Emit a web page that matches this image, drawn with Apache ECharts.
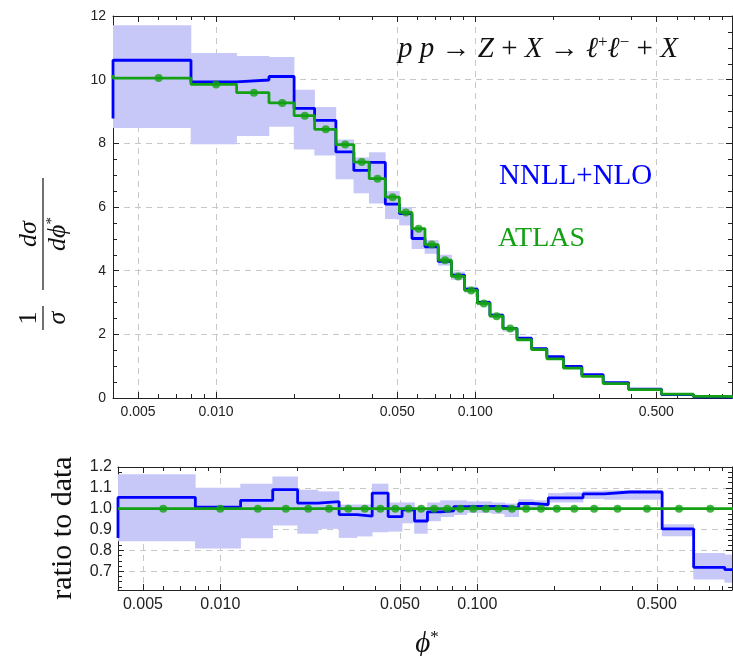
<!DOCTYPE html>
<html><head><meta charset="utf-8">
<script src="https://cdn.jsdelivr.net/npm/echarts@6/dist/echarts.min.js"></script>
<style>html,body{margin:0;padding:0;background:#fff}#c{width:733px;height:656px}</style>
</head><body><div id="c"></div>
<script>
// ---- data (bins in phi*) ----
const binEdges = [0, 0.004, 0.008, 0.012, 0.016, 0.020, 0.024, 0.029, 0.034, 0.039, 0.045, 0.051, 0.057, 0.064, 0.072, 0.081, 0.091, 0.102, 0.114, 0.128, 0.145, 0.165, 0.189, 0.219, 0.258, 0.312, 0.391, 0.524, 0.695, 0.918, 1.153];
// ATLAS data, 1/sigma dsigma/dphi*
const atlas = [10.15, 10.05, 9.85, 9.59, 9.27, 8.87, 8.44, 7.96, 7.41, 6.89, 6.31, 5.83, 5.32, 4.82, 4.33, 3.82, 3.38, 2.97, 2.57, 2.18, 1.83, 1.52, 1.23, 0.94, 0.68, 0.45, 0.26, 0.12, 0.05, 0.03];
// NNLL+NLO prediction and its band
const nnll   = [8.78, 10.61, 9.93, 9.99, 10.10, 9.10, 8.72, 7.73, 7.15, 7.40, 6.09, 5.79, 5.01, 4.75, 4.29, 3.86, 3.42, 3.00, 2.60, 2.19, 1.88, 1.55, 1.30, 0.99, 0.73, 0.486, 0.281, 0.108, 0.036, 0.021];
const nnllLo = [null, 8.48, 7.97, 8.23, 8.52, 7.81, 7.62, 6.87, 6.43, 6.11, 5.62, 5.42, 4.68, 4.53, 4.16, 3.71, 3.31, 2.91, 2.51, 2.09, 1.83, 1.52, 1.27, 0.97, 0.71, 0.47, 0.27, 0.104, 0.033, 0.019];
const nnllHi = [null, 11.71, 10.84, 10.74, 10.71, 9.68, 9.14, 8.12, 7.56, 7.72, 6.50, 6.00, 5.32, 4.96, 4.50, 3.97, 3.50, 3.07, 2.65, 2.23, 1.91, 1.58, 1.32, 1.01, 0.74, 0.49, 0.283, 0.111, 0.039, 0.023];
// ratio to data panel
const ratioNnll = [0.86, 1.054, 1.008, 1.04, 1.091, 1.027, 1.034, 0.972, 0.964, 1.075, 0.962, 0.995, 0.941, 0.985, 0.99, 1.01, 1.011, 1.011, 1.011, 1.003, 1.025, 1.02, 1.052, 1.052, 1.071, 1.08, 1.08, 0.903, 0.719, 0.708];
const ratioLo = [null, 0.844, 0.809, 0.858, 0.919, 0.88, 0.903, 0.86, 0.867, 0.887, 0.89, 0.93, 0.88, 0.94, 0.96, 0.97, 0.98, 0.98, 0.975, 0.96, 1.0, 1.0, 1.03, 1.03, 1.047, 1.043, 1.043, 0.868, 0.66, 0.645];
const ratioHi = [null, 1.165, 1.101, 1.12, 1.155, 1.091, 1.083, 1.02, 1.02, 1.12, 1.03, 1.03, 1.0, 1.03, 1.04, 1.04, 1.035, 1.035, 1.03, 1.025, 1.045, 1.04, 1.075, 1.078, 1.086, 1.088, 1.088, 0.925, 0.788, 0.78];
const ratioAtlas = [1, 1, 1, 1, 1, 1, 1, 1, 1, 1, 1, 1, 1, 1, 1, 1, 1, 1, 1, 1, 1, 1, 1, 1, 1, 1, 1, 1, 1, 1];
const topMarkerLastBin = 19;
// ---- ticks ----
const xMajorTicks = [0.005, 0.01, 0.05, 0.1, 0.5];
const xMajorLabels = ['0.005', '0.010', '0.050', '0.100', '0.500'];
const xMinorTicks = [0.004, 0.006, 0.007, 0.008, 0.009, 0.02, 0.03, 0.04, 0.06, 0.07, 0.08, 0.09, 0.2, 0.3, 0.4, 0.6, 0.7, 0.8, 0.9];
const yBotTicks = [0.7, 0.8, 0.9, 1.0, 1.1, 1.2];
const yBotLabels = ['0.7', '0.8', '0.9', '1.0', '1.1', '1.2'];
const yBotMinor = [0.625, 0.65, 0.675, 0.725, 0.75, 0.775, 0.825, 0.85, 0.875, 0.925, 0.95, 0.975, 1.025, 1.05, 1.075, 1.125, 1.15, 1.175];

const X_MIN = 0.004, X_MAX = 0.98;
const BLUE = '#0000ff', GREEN = '#14a014', BAND = '#c8c8f8', FRAME = '#222', GRID = '#c8c8c8';
const lg = v => Math.log10(v);

function steps(vals) {
  const pts = [];
  for (let i = 0; i < vals.length; i++) {
    if (vals[i] == null) continue;
    pts.push([Math.max(binEdges[i], X_MIN), vals[i]], [binEdges[i + 1], vals[i]]);
  }
  return pts;
}
function bands(lo, hi) {
  const out = [];
  for (let i = 0; i < lo.length; i++) {
    if (lo[i] == null) continue;
    out.push([Math.max(binEdges[i], X_MIN), binEdges[i + 1], lo[i], hi[i]]);
  }
  return out;
}
function markers(vals, lastBin) {
  const out = [];
  for (let i = 1; i <= lastBin && i < vals.length; i++) {
    const mid = (binEdges[i] + binEdges[i + 1]) / 2;
    if (mid > X_MAX) break;
    out.push([mid, vals[i]]);
  }
  return out;
}
function renderBand(params, api) {
  const p0 = api.coord([api.value(0), api.value(3)]);
  const p1 = api.coord([api.value(1), api.value(2)]);
  return { type: 'rect', shape: { x: p0[0] - 0.3, y: p0[1], width: p1[0] - p0[0] + 0.6, height: p1[1] - p0[1] }, style: { fill: BAND } };
}
function labelFont(size) { return { fontSize: size, color: '#222', fontFamily: 'Liberation Sans' }; }
function xAxes(gi, fs) {
  const base = { type: 'value', gridIndex: gi, min: lg(X_MIN), max: lg(X_MAX) };
  const line = { show: true, onZero: false, lineStyle: { color: FRAME, width: 1 } };
  return [
    { type: 'log', logBase: 10, gridIndex: gi, min: X_MIN, max: X_MAX, show: false },
    Object.assign({}, base, {
      position: 'bottom', axisLine: line,
      axisTick: { show: true, inside: true, length: 6, customValues: xMajorTicks.map(lg), lineStyle: { color: FRAME } },
      axisLabel: Object.assign({ show: true, margin: 7, customValues: xMajorTicks.map(lg),
        formatter: v => { const i = xMajorTicks.findIndex(m => Math.abs(lg(m) - v) < 1e-6); return i < 0 ? '' : xMajorLabels[i]; } }, labelFont(fs)),
      splitLine: { show: true, lineStyle: { color: GRID, type: [6, 5], width: 1 } }
    }),
    Object.assign({}, base, {
      position: 'bottom', axisLine: { show: false, onZero: false },
      axisTick: { show: true, inside: true, length: 4, customValues: xMinorTicks.map(lg), lineStyle: { color: FRAME } },
      axisLabel: { show: false }, splitLine: { show: false }
    }),
    Object.assign({}, base, {
      position: 'top', axisLine: line,
      axisTick: { show: true, inside: true, length: 6, customValues: xMajorTicks.map(lg), lineStyle: { color: FRAME } },
      axisLabel: { show: false }, splitLine: { show: false }
    }),
    Object.assign({}, base, {
      position: 'top', axisLine: { show: false, onZero: false },
      axisTick: { show: true, inside: true, length: 4, customValues: xMinorTicks.map(lg), lineStyle: { color: FRAME } },
      axisLabel: { show: false }, splitLine: { show: false }
    })
  ];
}
const line1 = { show: true, onZero: false, lineStyle: { color: FRAME, width: 1 } };
const yAxes = [
  { type: 'value', gridIndex: 0, min: 0, max: 12, interval: 2, position: 'left', axisLine: line1,
    axisTick: { show: true, inside: true, length: 6, lineStyle: { color: FRAME } },
    minorTick: { show: true, splitNumber: 4, length: 4, lineStyle: { color: FRAME } },
    axisLabel: Object.assign({ margin: 7 }, labelFont(14)),
    splitLine: { show: true, lineStyle: { color: GRID, type: [6, 5], width: 1 } } },
  { type: 'value', gridIndex: 0, min: 0, max: 12, interval: 2, position: 'right', axisLine: line1,
    axisTick: { show: true, inside: true, length: 6, lineStyle: { color: FRAME } },
    minorTick: { show: true, splitNumber: 4, length: 4, lineStyle: { color: FRAME } },
    axisLabel: { show: false }, splitLine: { show: false } },
  { type: 'value', gridIndex: 1, min: 0.61, max: 1.2, position: 'left', axisLine: line1,
    axisTick: { show: true, inside: true, length: 6, customValues: yBotTicks, lineStyle: { color: FRAME } },
    axisLabel: Object.assign({ margin: 6, customValues: yBotTicks,
      formatter: v => { const i = yBotTicks.findIndex(m => Math.abs(m - v) < 1e-6); return i < 0 ? '' : yBotLabels[i]; } }, labelFont(16)),
    splitLine: { show: true, lineStyle: { color: GRID, type: [6, 5], width: 1 } } },
  { type: 'value', gridIndex: 1, min: 0.61, max: 1.2, position: 'left', axisLine: { show: false, onZero: false },
    axisTick: { show: true, inside: true, length: 4, customValues: yBotMinor, lineStyle: { color: FRAME } },
    axisLabel: { show: false }, splitLine: { show: false } },
  { type: 'value', gridIndex: 1, min: 0.61, max: 1.2, position: 'right', axisLine: line1,
    axisTick: { show: true, inside: true, length: 6, customValues: yBotTicks, lineStyle: { color: FRAME } },
    axisLabel: { show: false }, splitLine: { show: false } },
  { type: 'value', gridIndex: 1, min: 0.61, max: 1.2, position: 'right', axisLine: { show: false, onZero: false },
    axisTick: { show: true, inside: true, length: 4, customValues: yBotMinor, lineStyle: { color: FRAME } },
    axisLabel: { show: false }, splitLine: { show: false } }
];

const serif = '"Liberation Serif", "DejaVu Serif", serif';
const option = {
  animation: false,
  backgroundColor: '#fff',
  grid: [
    { left: 113, top: 16, width: 619, height: 382 },
    { left: 118, top: 467, width: 614, height: 123 }
  ],
  xAxis: xAxes(0, 14).concat(xAxes(1, 16)),
  yAxis: yAxes,
  series: [
    { type: 'custom', name: 'bandTop', xAxisIndex: 0, yAxisIndex: 0, renderItem: renderBand, clip: true, z: 1,
      encode: { x: [0, 1], y: [2, 3] }, data: bands(nnllLo, nnllHi) },
    { type: 'line', name: 'NNLL+NLO', xAxisIndex: 0, yAxisIndex: 0, data: steps(nnll), showSymbol: false, clip: true,
      lineStyle: { color: BLUE, width: 2.8 }, z: 3 },
    { type: 'line', name: 'ATLAS', xAxisIndex: 0, yAxisIndex: 0, data: steps(atlas), showSymbol: false, clip: true,
      lineStyle: { color: GREEN, width: 2.8 }, z: 4 },
    { type: 'scatter', xAxisIndex: 0, yAxisIndex: 0, data: markers(atlas, topMarkerLastBin), symbolSize: 8,
      itemStyle: { color: GREEN }, z: 5 },
    { type: 'custom', name: 'bandBot', xAxisIndex: 5, yAxisIndex: 2, renderItem: renderBand, clip: true, z: 1,
      encode: { x: [0, 1], y: [2, 3] }, data: bands(ratioLo, ratioHi) },
    { type: 'line', xAxisIndex: 5, yAxisIndex: 2, data: steps(ratioNnll), showSymbol: false, clip: true,
      lineStyle: { color: BLUE, width: 2.8 }, z: 3 },
    { type: 'line', xAxisIndex: 5, yAxisIndex: 2, data: steps(ratioAtlas), showSymbol: false, clip: true,
      lineStyle: { color: GREEN, width: 2.8 }, z: 4 },
    { type: 'scatter', xAxisIndex: 5, yAxisIndex: 2, data: markers(ratioAtlas, ratioAtlas.length - 1), symbolSize: 8,
      itemStyle: { color: GREEN }, z: 5 }
  ],
  graphic: [
    { type: 'text', x: 398, y: 49, z: 10, style: {
        text: '{it|p p}{rm| → }{it|Z}{rm| + }{it|X}{rm| → }{it|ℓ}{sup|+}{it|ℓ}{sup|−}{rm| + }{it|X}',
        textVerticalAlign: 'middle', fill: '#111',
        rich: {
          it: { fontFamily: serif, fontStyle: 'italic', fontSize: 29, fill: '#111' },
          rm: { fontFamily: serif, fontSize: 29, fill: '#111' },
          sup: { fontFamily: serif, fontSize: 17, verticalAlign: 'top', fill: '#111' }
        } } },
    { type: 'text', x: 499, y: 176, z: 10, style: { text: 'NNLL+NLO', font: '29px ' + serif, fill: BLUE, textVerticalAlign: 'middle' } },
    { type: 'text', x: 498, y: 239, z: 10, style: { text: 'ATLAS', font: '28px ' + serif, fill: GREEN, textVerticalAlign: 'middle' } },
    { type: 'text', x: 63, y: 528, rotation: Math.PI / 2, z: 10, style: { text: 'ratio to data', font: '30px ' + serif, fill: '#111', textAlign: 'center', textVerticalAlign: 'middle' } },
    { type: 'text', x: 427, y: 644, z: 10, style: {
        text: '{it|ϕ}{sup|*}', textAlign: 'center', textVerticalAlign: 'middle',
        rich: { it: { fontFamily: serif, fontStyle: 'italic', fontSize: 29, fill: '#111' },
                sup: { fontFamily: serif, fontSize: 17, verticalAlign: 'top', fill: '#111' } } } },
    { type: 'group', x: 43, y: 258, rotation: Math.PI / 2, z: 10, children: [
      { type: 'text', x: -60, y: -14, style: { text: '1', font: '26px ' + serif, fill: '#111', textAlign: 'center', textVerticalAlign: 'middle' } },
      { type: 'line', shape: { x1: -72, y1: 0, x2: -48, y2: 0 }, style: { stroke: '#111', lineWidth: 1.2 } },
      { type: 'text', x: -60, y: 15, style: { text: 'σ', font: 'italic 26px ' + serif, fill: '#111', textAlign: 'center', textVerticalAlign: 'middle' } },
      { type: 'text', x: 24, y: -14, style: { text: 'dσ', font: 'italic 26px ' + serif, fill: '#111', textAlign: 'center', textVerticalAlign: 'middle' } },
      { type: 'line', shape: { x1: -32, y1: 0, x2: 80, y2: 0 }, style: { stroke: '#111', lineWidth: 1.2 } },
      { type: 'text', x: 24, y: 15, style: {
          text: '{it|dϕ}{sup|*}', textAlign: 'center', textVerticalAlign: 'middle',
          rich: { it: { fontFamily: serif, fontStyle: 'italic', fontSize: 26, fill: '#111' },
                  sup: { fontFamily: serif, fontSize: 15, verticalAlign: 'top', fill: '#111' } } } }
    ] }
  ]
};
const chart = echarts.init(document.getElementById('c'), null, { renderer: 'canvas' });
chart.setOption(option);
</script>
</body></html>
